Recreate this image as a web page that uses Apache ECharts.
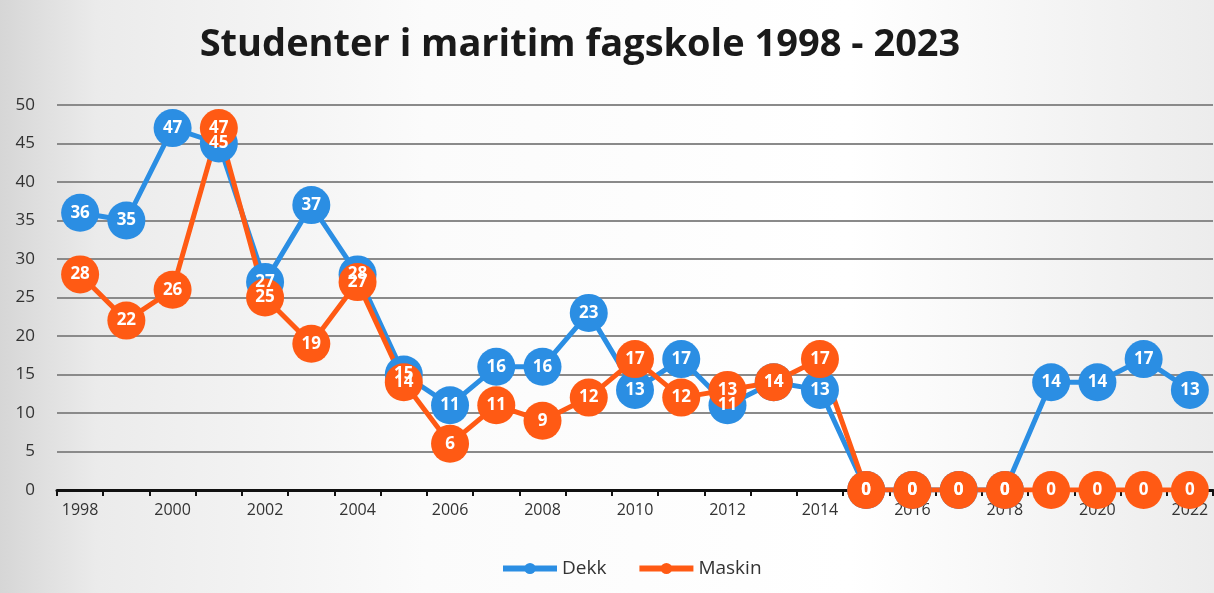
<!DOCTYPE html>
<html>
<head>
<meta charset="utf-8">
<script src="https://cdn.jsdelivr.net/npm/echarts@6/dist/echarts.min.js"></script>
<style>
  html, body { margin: 0; padding: 0; }
  #chart { width: 1214px; height: 593px; }
</style>
</head>
<body>
<div id="chart"></div>
<script>
  // år på x-aksen
  const years = ['1998', '1999', '2000', '2001', '2002', '2003', '2004', '2005', '2006', '2007', '2008', '2009',
    '2010', '2011', '2012', '2013', '2014', '2015', '2016', '2017', '2018', '2019', '2020', '2021', '2022']
  // Dekk
  const dekk = [36, 35, 47, 45, 27, 37, 28, 15, 11, 16, 16, 23, 13, 17, 11, 14, 13, 0, 0, 0, 0, 14, 14, 17, 13]
  // Maskin
  const maskin = [28, 22, 26, 47, 25, 19, 27, 14, 6, 11, 9, 12, 17, 12, 13, 14, 17, 0, 0, 0, 0, 0, 0, 0, 0]

  const blue = '#2b8ee3'
  const orange = '#ff5a14'

  const myChart = echarts.init(document.getElementById('chart'))

  function makeSeries(name, data, color) {
    return {
      name: name,
      type: 'line',
      data: data,
      symbol: 'circle',
      symbolSize: 38,
      showAllSymbol: true,
      lineStyle: { width: 5, color: color },
      itemStyle: { color: color },
      label: {
        show: true,
        position: 'inside',
        color: '#fff',
        fontSize: 17,
        fontWeight: 'bold',
        fontFamily: 'Open Sans'
      }
    }
  }

  const option = {
    backgroundColor: {
      type: 'linear', x: 0, y: 0, x2: 1, y2: 0,
      colorStops: [
        { offset: 0, color: '#d6d6d6' },
        { offset: 0.08, color: '#ebebeb' },
        { offset: 0.35, color: '#fbfbfb' },
        { offset: 0.7, color: '#ffffff' },
        { offset: 1, color: '#ececec' }
      ]
    },
    title: {
      text: 'Studenter i maritim fagskole 1998 - 2023',
      left: 575,
      textAlign: 'center',
      top: 21,
      textStyle: { fontFamily: 'Open Sans', fontWeight: 'bold', fontSize: 38, color: '#1a1a1a' }
    },
    legend: {
      bottom: 10,
      left: 495,
      itemWidth: 54,
      itemHeight: 14,
      itemGap: 30,
      lineStyle: { width: 6 },
      textStyle: { fontFamily: 'Open Sans', fontSize: 19, color: '#333' },
      data: ['Dekk', 'Maskin']
    },
    grid: { left: 57, right: 1, top: 105, bottom: 103 },
    xAxis: {
      type: 'category',
      data: years,
      boundaryGap: true,
      axisLine: { lineStyle: { color: '#111', width: 3 } },
      axisTick: { show: true, interval: 0, length: 6, lineStyle: { color: '#111', width: 2 } },
      axisLabel: { interval: 1, color: '#333', fontSize: 16, fontFamily: 'Open Sans', margin: 12 }
    },
    yAxis: {
      type: 'value',
      min: 0,
      max: 50,
      interval: 5,
      axisLine: { show: false },
      axisTick: { show: false },
      axisLabel: { color: '#333', fontSize: 17, fontFamily: 'Open Sans', margin: 22 },
      splitLine: { lineStyle: { color: '#8a8a8a', width: 2 } }
    },
    series: [
      makeSeries('Dekk', dekk, blue),
      makeSeries('Maskin', maskin, orange)
    ]
  }
  myChart.setOption(option)
</script>
</body>
</html>
